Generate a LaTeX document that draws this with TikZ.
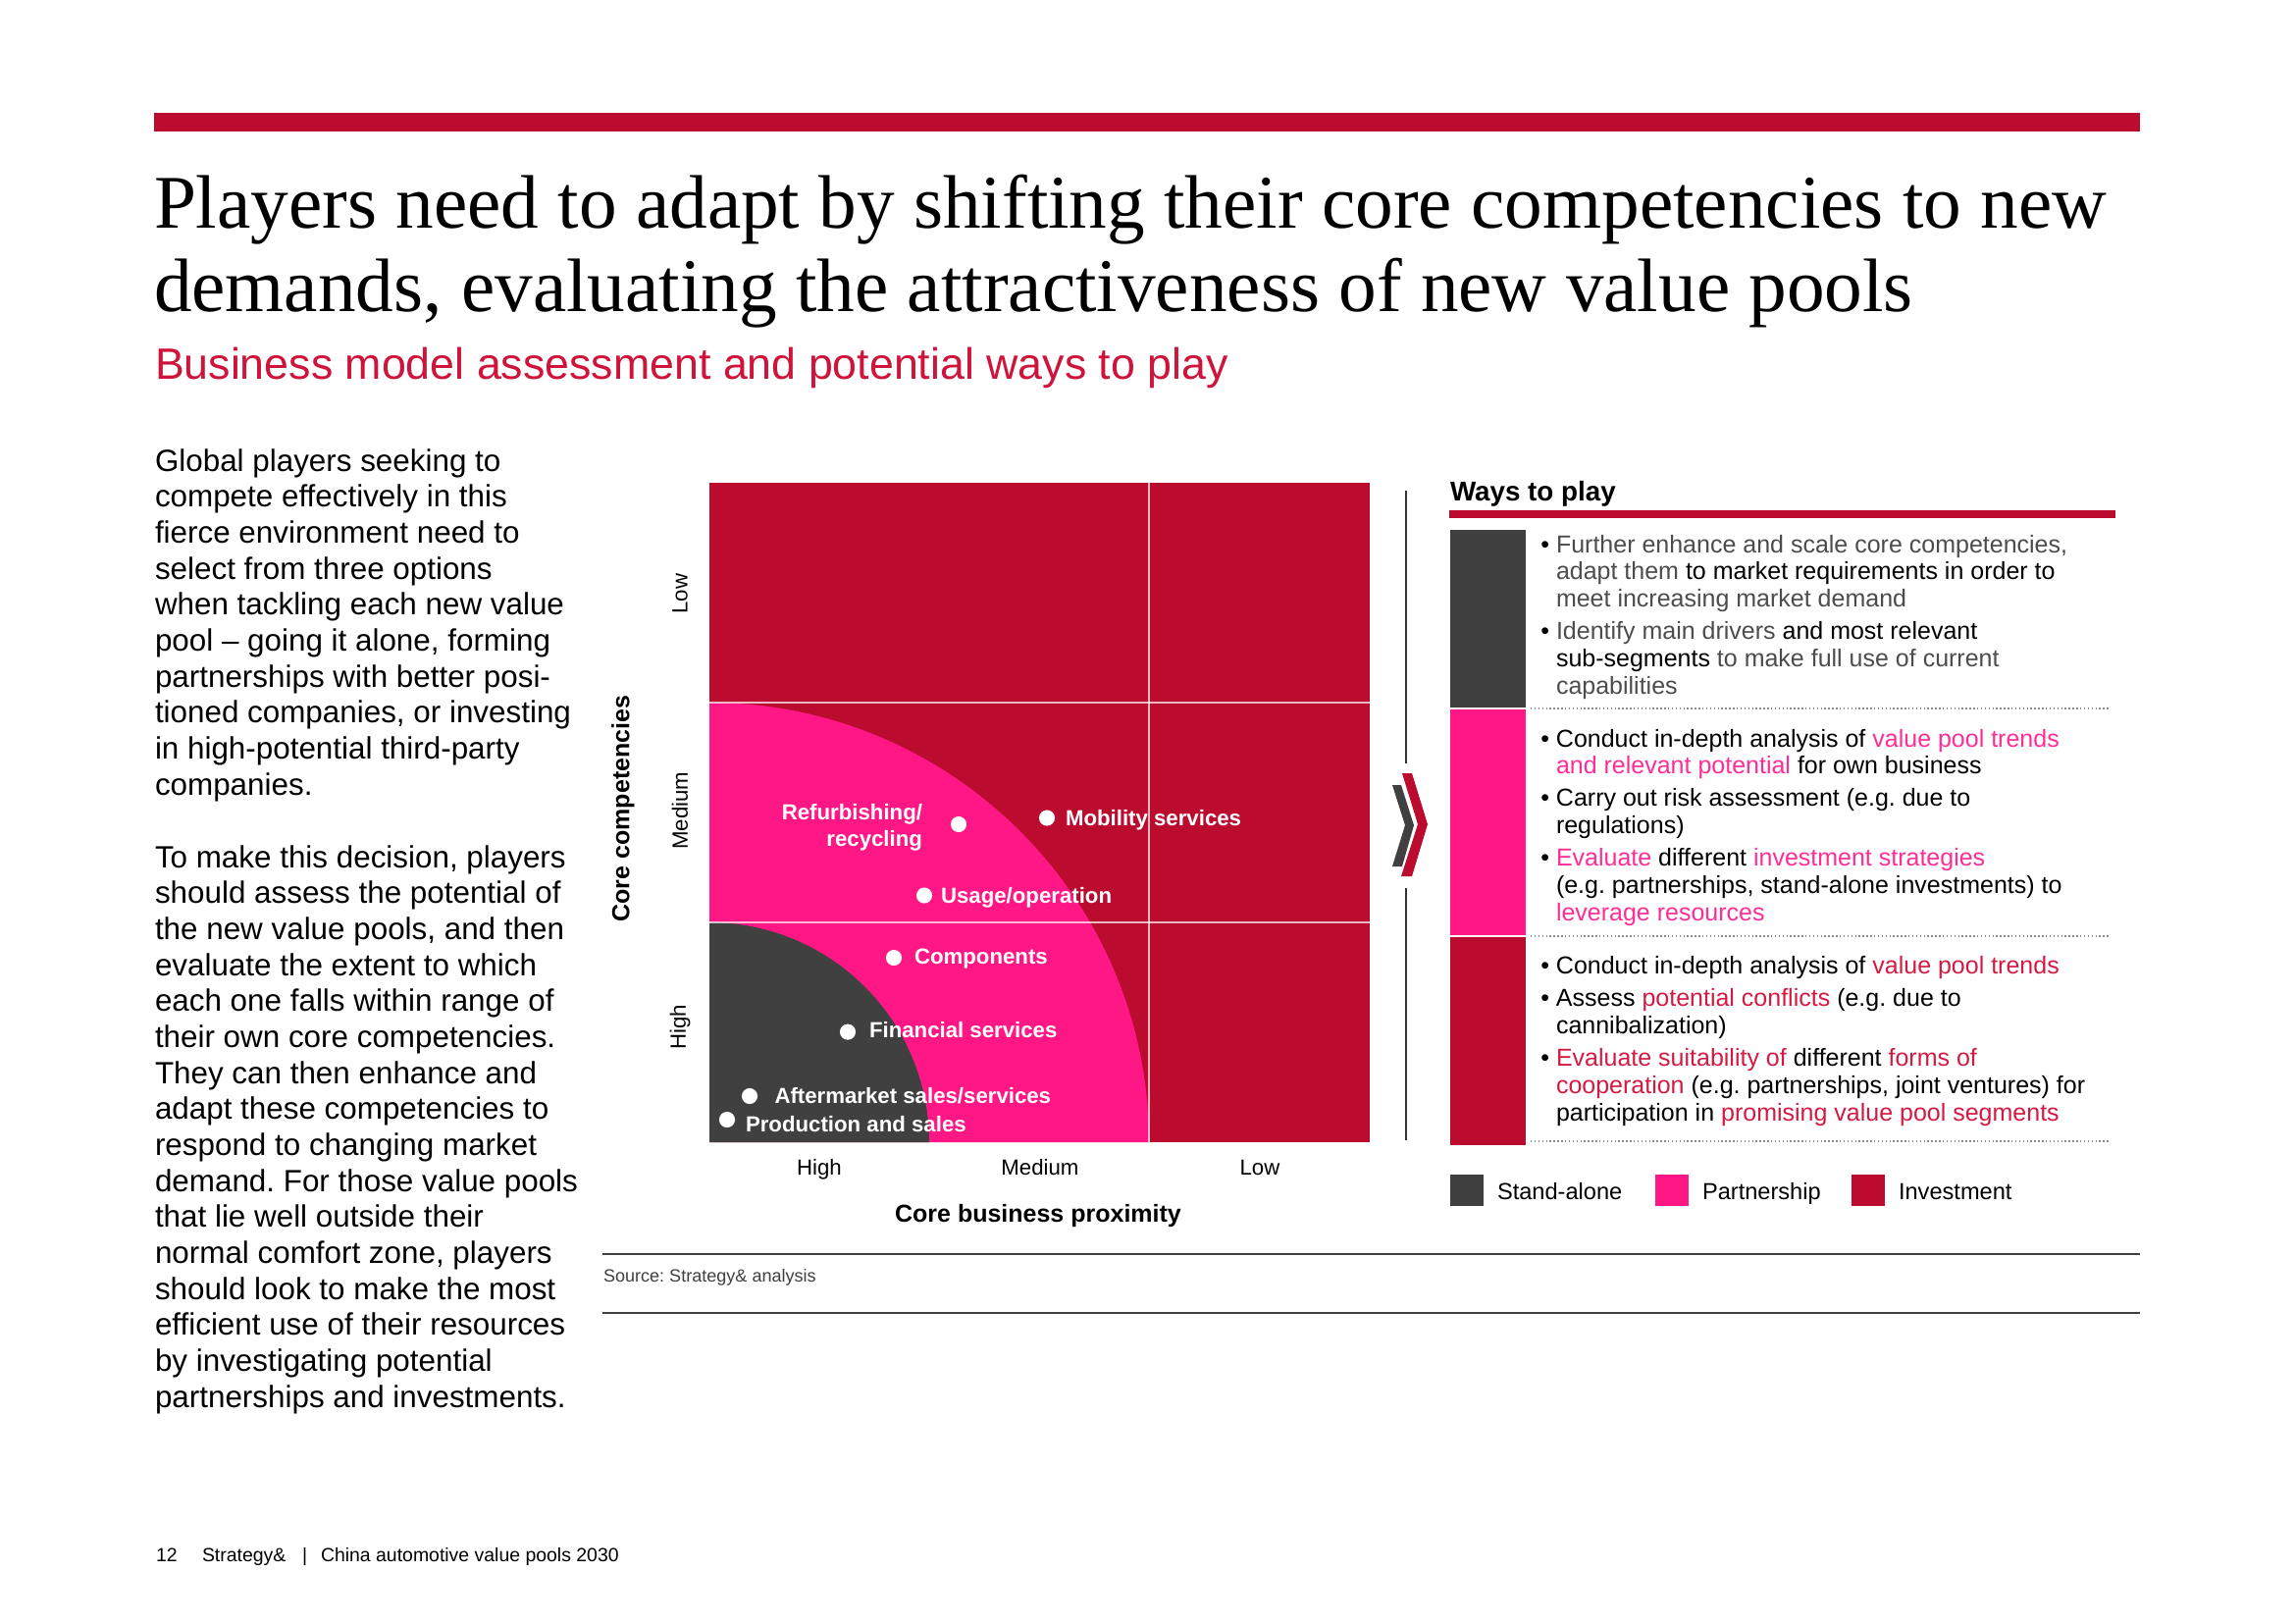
\documentclass[tikz,border=0pt]{standalone}
\usepackage{fontspec}
\setmainfont{Liberation Sans}
\setsansfont{Liberation Sans}
\newfontfamily\ttlserif{Liberation Serif}
\frenchspacing
\definecolor{inv}{RGB}{187,12,48}
\definecolor{part}{RGB}{255,24,133}
\definecolor{stand}{RGB}{64,64,64}
\definecolor{subred}{RGB}{207,20,60}
\definecolor{hlred}{RGB}{212,26,66}
\definecolor{hlpink}{RGB}{255,45,150}
\newcommand\hlg[1]{\textcolor{black!70}{#1}}
\newcommand\hlp[1]{\textcolor{hlpink}{#1}}
\newcommand\hlr[1]{\textcolor{hlred}{#1}}
\newcommand\bitem[1]{\par\noindent\hangindent=5.04pt\hangafter=1\hspace*{-0.6pt}\makebox[5.64pt][l]{•}#1\par}
\newcommand\bsep{\vspace{2pt}}
\tikzset{
 txt/.style={inner sep=0pt, outer sep=0pt, anchor=base west},
 ptlabel/.style={txt, text=white, font=\fontsize{8}{9.5}\selectfont\bfseries},
 wdot/.style={circle, fill=white, inner sep=0pt, minimum size=5.8pt},
 axlab/.style={inner sep=0pt, font=\fontsize{8}{9.6}\selectfont},
 axtitle/.style={inner sep=0pt, font=\fontsize{9}{10.8}\selectfont\bfseries},
 gridline/.style={white, opacity=0.7, line width=0.5pt},
 legsq/.style={inner sep=0pt, minimum width=11.9pt, minimum height=11.5pt},
 legtxt/.style={txt, font=\fontsize{8.5}{10}\selectfont},
 blocktxt/.style={txt, font=\fontsize{9}{9.97}\selectfont},
 bodytxt/.style={txt, font=\fontsize{11.3}{13.2}\selectfont},
 sepline/.style={black!45, line width=0.5pt, dash pattern=on 0.5pt off 0.9pt},
 rulel/.style={black!75, line width=0.6pt},
}
\begin{document}
\begin{tikzpicture}[x=0.36pt, y=-0.36pt]
\useasboundingbox (0,0) rectangle (2339,1654);
\fill[white] (0,0) rectangle (2339,1654);
% top bar
\fill[inv] (157,115) rectangle (2181,134);
% title
\node[txt] (title) at (157,232) {\parbox[t]{760pt}{\ttlserif\fontsize{27.8}{30.6}\selectfont Players need to adapt by shifting their core competencies to new\\demands, evaluating the attractiveness of new value pools}};
\node[txt, text=subred, font=\fontsize{16.1}{19}\selectfont] (subtitle) at (158,386) {Business model assessment and potential ways to play};
% body text
\node[bodytxt] (para1) at (158,480) {\parbox[t]{220pt}{Global players seeking to\\compete effectively in this\\fierce environment need to\\select from three options\\when tackling each new value\\pool – going it alone, forming\\partnerships with better posi-\\tioned companies, or investing\\in high-potential third-party\\companies.}};
\node[bodytxt] (para2) at (158,884) {\parbox[t]{220pt}{To make this decision, players\\should assess the potential of\\the new value pools, and then\\evaluate the extent to which\\each one falls within range of\\their own core competencies.\\They can then enhance and\\adapt these competencies to\\respond to changing market\\demand. For those value pools\\that lie well outside their\\normal comfort zone, players\\should look to make the most\\efficient use of their resources\\by investigating potential\\partnerships and investments.}};
% chart
\fill[inv] (723,492) rectangle (1396,1164);
\fill[part] (723,1164) -- (723,716) arc[start angle=90, end angle=0, radius=161.28pt] -- cycle;
\fill[stand] (723,1164) -- (723,940) arc[start angle=90, end angle=0, radius=80.64pt] -- cycle;
\draw[gridline] (723,716) -- (1396,716);
\draw[gridline] (723,940) -- (1396,940);
\draw[gridline] (1171,492) -- (1171,1164);
% points
\node[wdot] (d1) at (977,840) {};
\node[ptlabel, anchor=base east] (l1) at (940,835.6) {\parbox[t]{70pt}{\raggedleft Refurbishing/\\recycling}};
\node[wdot] (d2) at (1067,833.5) {};
\node[ptlabel] (l2) at (1086,841.5) {Mobility services};
\node[wdot] (d3) at (942,912.5) {};
\node[ptlabel] (l3) at (959,920) {Usage/operation};
\node[wdot] (d4) at (911,976) {};
\node[ptlabel] (l4) at (932,982) {Components};
\node[wdot] (d5) at (864,1051.6) {};
\node[ptlabel] (l5) at (886,1057) {Financial services};
\node[wdot] (d6) at (764,1117) {};
\node[ptlabel] (l6) at (789.5,1124) {Aftermarket sales/services};
\node[wdot] (d7) at (741,1141) {};
\node[ptlabel] (l7) at (760,1153) {Production and sales};
% axes
\node[axlab, anchor=base] (xh) at (835,1197) {High};
\node[axlab, anchor=base] (xm) at (1060,1197) {Medium};
\node[axlab, anchor=base] (xl) at (1284,1197) {Low};
\node[axtitle, anchor=base] (xt) at (1058,1245) {Core business proximity};
\node[axlab, rotate=90] (yl) at (693,605) {Low};
\node[axlab, rotate=90] (ym) at (693,826) {Medium};
\node[axlab, rotate=90] (yh) at (693,1047) {High};
\node[axtitle, rotate=90] (yt) at (635,824) {Core competencies};
% separator and chevron
\draw[black!80, line width=0.45pt] (1433,500) -- (1433,778);
\draw[black!80, line width=0.45pt] (1433,905) -- (1433,1162);
\fill[stand] (1419,800) -- (1428,800) -- (1441,841) -- (1429,883) -- (1419,883) -- (1432,841) -- cycle;
\fill[inv] (1429,788) -- (1439,788) -- (1455,840) -- (1439,893) -- (1428,893) -- (1445,840) -- cycle;
% ways to play
\node[txt, font=\fontsize{10}{12}\selectfont\bfseries] (wtp) at (1478,510) {Ways to play};
\fill[inv] (1477,520) rectangle (2156,528);
\fill[stand] (1478,540) rectangle (1555,721);
\fill[part] (1478,723) rectangle (1555,953);
\fill[inv] (1478,955) rectangle (1555,1167);
\draw[sepline] (1560,722) -- (2150,722);
\draw[sepline] (1560,954) -- (2150,954);
\draw[sepline] (1560,1163) -- (2150,1163);
\node[blocktxt] (b1) at (1572,563) {\parbox[t]{300pt}{%
\bitem{\hlg{Further enhance and scale core competencies,}\\\hlg{adapt them} to market requirements in order to\\\hlg{meet increasing market demand}}\bsep
\bitem{\hlg{Identify main drivers} and most relevant\\sub-segments \hlg{to make full use of current}\\\hlg{capabilities}}}};
\node[blocktxt] (b2) at (1572,761) {\parbox[t]{300pt}{%
\bitem{Conduct in-depth analysis of \hlp{value pool trends}\\\hlp{and relevant potential} for own business}\bsep
\bitem{Carry out risk assessment (e.g. due to\\regulations)}\bsep
\bitem{\hlp{Evaluate} different \hlp{investment strategies}\\(e.g. partnerships, stand-alone investments) to\\\hlp{leverage resources}}}};
\node[blocktxt] (b3) at (1572,992.5) {\parbox[t]{300pt}{%
\bitem{Conduct in-depth analysis of \hlr{value pool trends}}\bsep
\bitem{Assess \hlr{potential conflicts} (e.g. due to\\cannibalization)}\bsep
\bitem{\hlr{Evaluate suitability of} different \hlr{forms of}\\\hlr{cooperation} (e.g. partnerships, joint ventures) for\\participation in \hlr{promising value pool segments}}}};
% legend
\node[legsq, fill=stand] (sq1) at (1495,1213) {};
\node[legtxt] (lg1) at (1526,1222) {Stand-alone};
\node[legsq, fill=part] (sq2) at (1704,1213) {};
\node[legtxt] (lg2) at (1735,1222) {Partnership};
\node[legsq, fill=inv] (sq3) at (1904,1213) {};
\node[legtxt] (lg3) at (1935,1222) {Investment};
% source
\draw[rulel] (614,1278) -- (2181,1278);
\draw[rulel] (614,1338) -- (2181,1338);
\node[txt, text=black!75, font=\fontsize{6.5}{8}\selectfont] (src) at (615,1306) {Source: Strategy\& analysis};
% footer
\node[txt, font=\fontsize{7}{8.4}\selectfont] (pg) at (159,1591) {12};
\node[txt, font=\fontsize{7}{8.4}\selectfont] (brand) at (206,1591) {Strategy\&};
\node[txt, font=\fontsize{7}{8.4}\selectfont] (bar) at (308,1591) {|};
\node[txt, font=\fontsize{7}{8.4}\selectfont] (pub) at (327,1591) {China automotive value pools 2030};
\end{tikzpicture}
\end{document}
